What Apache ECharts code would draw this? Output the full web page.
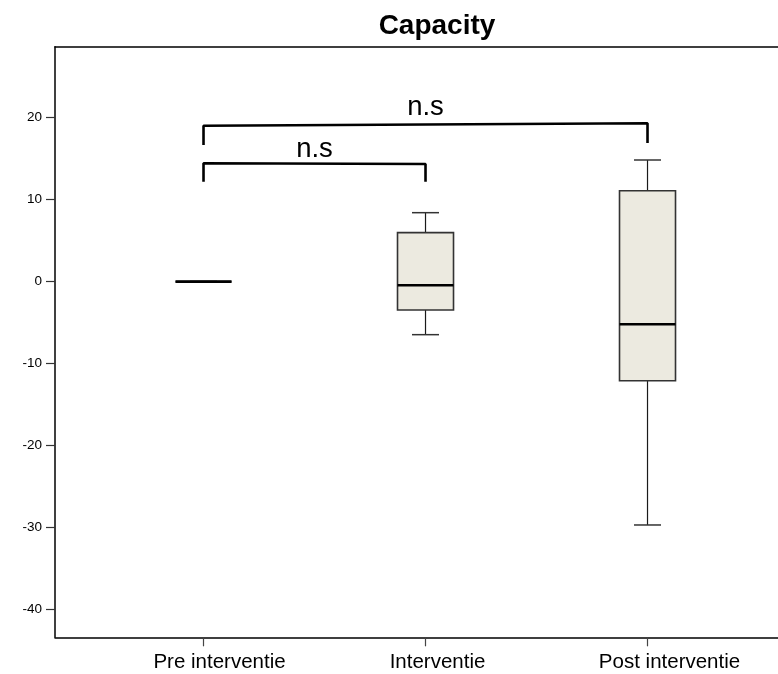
<!DOCTYPE html>
<html>
<head>
<meta charset="utf-8">
<script src="https://cdn.jsdelivr.net/npm/echarts@6/dist/echarts.min.js"></script>
<style>html,body{margin:0;padding:0;background:#fff}#c{width:778px;height:674px}</style>
</head>
<body>
<div id="c"></div>
<script>
// ---- data ----
const categories   = ['Pre interventie', 'Interventie', 'Post interventie'];
const categoryPos  = [1, 2, 3];
const whiskerLow   = [0, -6.48, -29.71];
const quartile1    = [0, -3.47, -12.1];
const medians      = [0, -0.45, -5.2];
const quartile3    = [0, 5.97, 11.09];
const whiskerHigh  = [0, 8.41, 14.84];
const yTicks       = [-40, -30, -20, -10, 0, 10, 20];
// significance brackets
const bracketFrom  = [1, 1];
const bracketTo    = [2, 3];
const bracketLeftBottom  = [12.19, 16.67];
const bracketLeftTop     = [14.44, 19.03];
const bracketRightTop    = [14.35, 19.32];
const bracketRightBottom = [12.19, 16.92];
const bracketLabelY      = [16.1, 21.2];
const bracketLabels      = ['n.s', 'n.s'];

// ---- build ----
const BOX_W = 56, CAP_W = 27;
const X_MIN = 0.331, X_MAX = 3.5878;
const boxData = categoryPos.map((x, i) => [x, whiskerLow[i], quartile1[i], medians[i], quartile3[i], whiskerHigh[i]]);

function renderBox(params, api) {
  const x = api.value(0);
  const pMin = api.coord([x, api.value(1)]);
  const pQ1 = api.coord([x, api.value(2)]);
  const pMed = api.coord([x, api.value(3)]);
  const pQ3 = api.coord([x, api.value(4)]);
  const pMax = api.coord([x, api.value(5)]);
  const cx = pMed[0], h = BOX_W / 2, c = CAP_W / 2;
  const wStyle = { stroke: '#1a1a1a', lineWidth: 1.2 };
  return {
    type: 'group',
    children: [
      { type: 'line', shape: { x1: cx, y1: pQ3[1], x2: cx, y2: pMax[1] }, style: wStyle },
      { type: 'line', shape: { x1: cx, y1: pQ1[1], x2: cx, y2: pMin[1] }, style: wStyle },
      { type: 'line', shape: { x1: cx - c, y1: pMax[1], x2: cx + c, y2: pMax[1] }, style: { stroke: '#333', lineWidth: 1.5 } },
      { type: 'line', shape: { x1: cx - c, y1: pMin[1], x2: cx + c, y2: pMin[1] }, style: { stroke: '#333', lineWidth: 1.5 } },
      { type: 'rect', shape: { x: cx - h, y: pQ3[1], width: BOX_W, height: pQ1[1] - pQ3[1] },
        style: { fill: '#ECEAE0', stroke: '#333', lineWidth: 1.6 } },
      { type: 'line', shape: { x1: cx - h, y1: pMed[1], x2: cx + h, y2: pMed[1] }, style: { stroke: '#000', lineWidth: 2.6 } }
    ]
  };
}

const bracketSeries = bracketFrom.map((f, i) => ({
  type: 'line',
  silent: true,
  symbol: 'none',
  lineStyle: { color: '#000', width: 2.6 },
  data: [[f, bracketLeftBottom[i]], [f, bracketLeftTop[i]], [bracketTo[i], bracketRightTop[i]], [bracketTo[i], bracketRightBottom[i]]],
  z: 5
}));

const labelSeries = {
  type: 'scatter',
  silent: true,
  symbolSize: 0,
  itemStyle: { opacity: 1, color: '#000' },
  data: bracketFrom.map((f, i) => ({ value: [(f + bracketTo[i]) / 2, bracketLabelY[i]], name: bracketLabels[i] })),
  label: {
    show: true, position: 'inside', formatter: p => p.name, opacity: 1,
    fontFamily: 'Liberation Sans, Arial, sans-serif', fontSize: 27.5, color: '#000',
    textBorderWidth: 0
  },
  z: 6
};

const labelShift = [16, 12, 22];
const rich = {};
labelShift.forEach((s, i) => { rich['c' + i] = { padding: [0, 0, 0, 2 * s], fontSize: 20.5, fontFamily: 'Liberation Sans, Arial, sans-serif', color: '#000' }; });

const chart = echarts.init(document.getElementById('c'), null, { renderer: 'canvas' });
chart.setOption({
  animation: false,
  backgroundColor: '#fff',
  title: {
    text: 'Capacity', left: 437, top: 12, textAlign: 'center', padding: 0,
    textStyle: { fontFamily: 'Liberation Sans, Arial, sans-serif', fontWeight: 'bold', fontSize: 28, color: '#000' }
  },
  grid: { left: 55, right: 0, top: 46.7, bottom: 36.7, show: false },
  xAxis: [{
    type: 'value', min: X_MIN, max: X_MAX, position: 'bottom',
    splitLine: { show: false },
    axisLine: { show: true, onZero: false, lineStyle: { color: '#000', width: 1.5 } },
    axisTick: { show: true, customValues: categoryPos, length: 9, lineStyle: { color: '#444', width: 1.2 } },
    axisLabel: {
      show: true, customValues: categoryPos, margin: 15,
      formatter: v => { const i = categoryPos.indexOf(v); return i < 0 ? '' : '{c' + i + '|' + categories[i] + '}'; },
      rich: rich
    }
  }, {
    type: 'value', min: X_MIN, max: X_MAX, position: 'top',
    splitLine: { show: false },
    axisLine: { show: true, onZero: false, lineStyle: { color: '#000', width: 1.5 } },
    axisTick: { show: false }, axisLabel: { show: false }
  }],
  yAxis: {
    type: 'value', min: -43.42, max: 28.67,
    splitLine: { show: false },
    axisLine: { show: true, onZero: false, lineStyle: { color: '#000', width: 1.5 } },
    axisTick: { show: true, customValues: yTicks, length: 9, lineStyle: { color: '#333', width: 1.2 } },
    axisLabel: { show: true, customValues: yTicks, margin: 13, fontSize: 13.5, fontFamily: 'Liberation Sans, Arial, sans-serif', color: '#000' }
  },
  series: [
    { type: 'custom', renderItem: renderBox, data: boxData, encode: { x: 0, y: [1, 2, 3, 4, 5] }, z: 3, silent: true }
  ].concat(bracketSeries, [labelSeries])
});
</script>
</body>
</html>
